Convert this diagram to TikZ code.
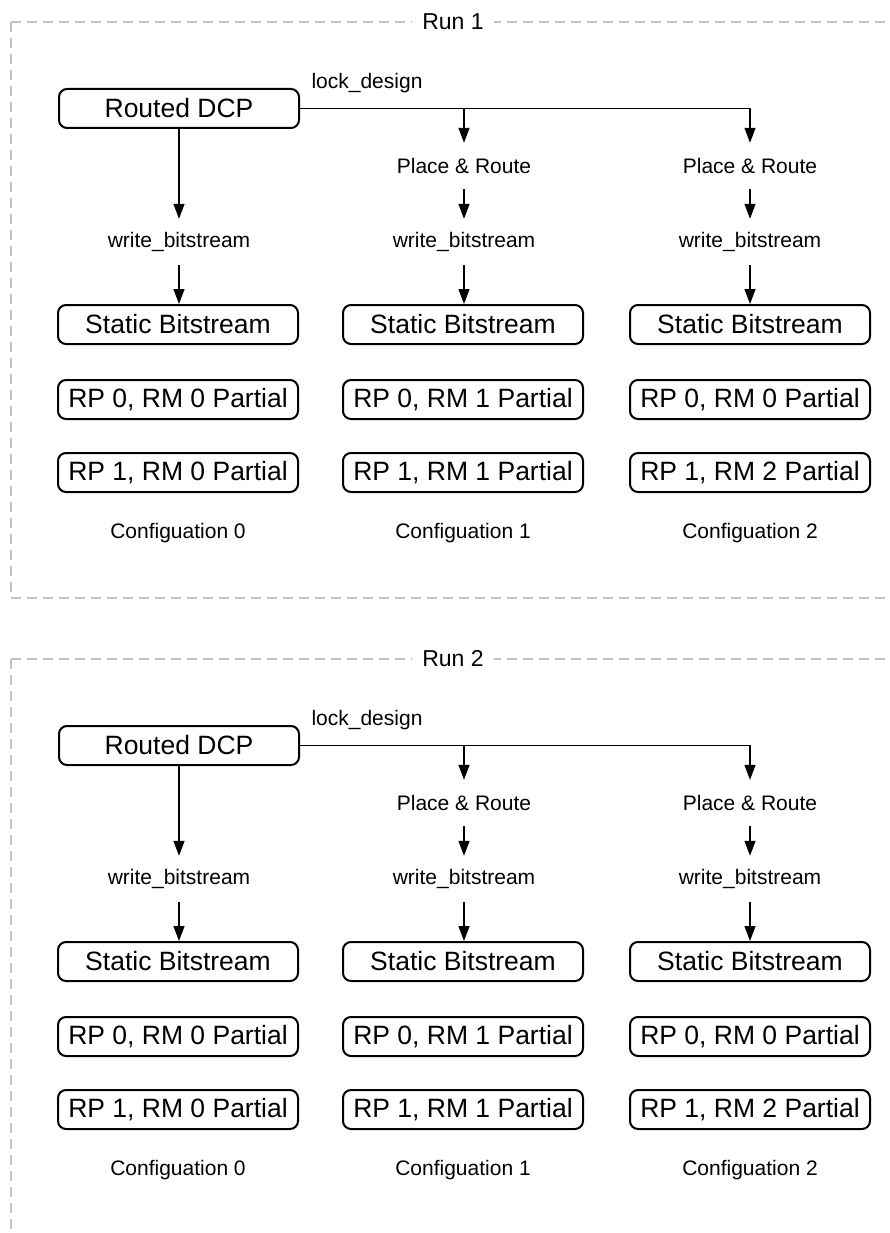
\documentclass[tikz,border=0pt]{standalone}
\usepackage{fontspec}
\setmainfont{Liberation Sans}
\usetikzlibrary{arrows.meta}
\begin{document}
\begin{tikzpicture}[x=1pt,y=-1pt,
  box/.style={draw,line width=2pt,rounded corners=8pt,minimum width=240pt,minimum height=39pt,inner sep=0pt,font=\fontsize{26.5}{30}\selectfont},
  lbl/.style={inner sep=0pt,minimum height=46pt,font=\fontsize{21}{25}\selectfont},
  arr/.style={line width=1.3pt,-{Triangle[length=15pt,width=11pt]}},
  wire/.style={line width=1.3pt},
  frame/.style={draw=black!24,line width=2pt,dash pattern=on 10pt off 6pt},
  ttl/.style={fill=white,inner xsep=10pt,inner ysep=2pt,font=\fontsize{23}{28}\selectfont}]
\useasboundingbox (0,0) rectangle (890,1233);
% frames
\draw[frame] (11,22) -- (890,22);
\draw[frame] (11,22) -- (11,598) -- (890,598);
\node[ttl] (r1-title) at (453,22) {Run 1};
\draw[frame] (11,659) -- (890,659);
\draw[frame] (11,659) -- (11,1233);
\node[ttl] (r2-title) at (453,659) {Run 2};
\foreach \r/\off in {1/0,2/637}{
\begin{scope}[shift={(0,\off)},name prefix=r\r-]
  \node[box] (dcp) at (179,108.5) {Routed DCP};
  \node[lbl,anchor=center] (lock) at (367,83) {lock\_design};
  \node[lbl] (pr1) at (464,166) {Place \& Route};
  \node[lbl] (pr2) at (750,166) {Place \& Route};
  \node[lbl] (wb0) at (179,242) {write\_bitstream};
  \node[lbl] (wb1) at (464,242) {write\_bitstream};
  \node[lbl] (wb2) at (750,242) {write\_bitstream};
  \node[box] (sb0) at (178,324.5) {Static Bitstream};
  \node[box] (sb1) at (463,324.5) {Static Bitstream};
  \node[box] (sb2) at (750,324.5) {Static Bitstream};
  \node[box] (a0) at (178,399.5) {RP 0, RM 0 Partial};
  \node[box] (a1) at (463,399.5) {RP 0, RM 1 Partial};
  \node[box] (a2) at (750,399.5) {RP 0, RM 0 Partial};
  \node[box] (b0) at (178,472.5) {RP 1, RM 0 Partial};
  \node[box] (b1) at (463,472.5) {RP 1, RM 1 Partial};
  \node[box] (b2) at (750,472.5) {RP 1, RM 2 Partial};
  \node[lbl] (c0) at (178,533) {Configuation 0};
  \node[lbl] (c1) at (463,533) {Configuation 1};
  \node[lbl] (c2) at (750,533) {Configuation 2};
  \draw[arr] (dcp.east) -| (pr2.north);
  \draw[arr] (dcp.east -| pr1.north) -- (pr1.north);
  \draw[arr] (dcp.south) -- (wb0.north);
  \draw[arr] (pr1.south) -- (wb1.north);
  \draw[arr] (pr2.south) -- (wb2.north);
  \draw[arr] (wb0.south) -- (wb0.south |- sb0.north);
  \draw[arr] (wb1.south) -- (wb1.south |- sb1.north);
  \draw[arr] (wb2.south) -- (wb2.south |- sb2.north);
\end{scope}
}
\end{tikzpicture}
\end{document}
